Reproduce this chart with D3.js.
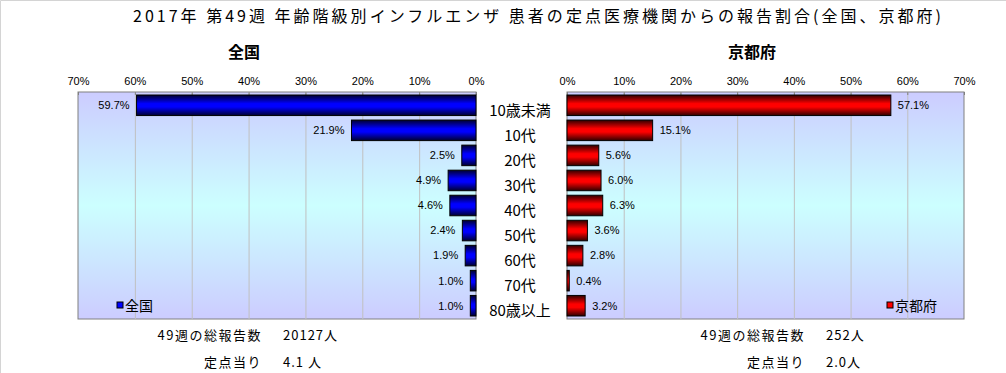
<!DOCTYPE html>
<meta charset="utf-8">
<style>

body {
  margin: 0;
  background: #fff;
}

svg {
  font-family: "Noto Sans CJK JP", "Liberation Sans", sans-serif;
}

.axis path {
  display: none;
}

.axis line {
  stroke: #808080;
}

.axis text {
  fill: #000;
  font-size: 11px;
  font-family: "Liberation Sans", Arial, sans-serif;
}

.grid line {
  stroke: #c0c0c0;
}

.grid path,
.grid text {
  display: none;
}

.val {
  font-size: 11px;
  font-family: "Liberation Sans", Arial, sans-serif;
}

</style>
<body>
<script src="https://d3js.org/d3.v7.min.js"></script>
<script>

var ageGroups = ["10歳未満", "10代", "20代", "30代", "40代", "50代", "60代", "70代", "80歳以上"];
var zenkoku = [59.7, 21.9, 2.5, 4.9, 4.6, 2.4, 1.9, 1.0, 1.0];
var kyoto = [57.1, 15.1, 5.6, 6.0, 6.3, 3.6, 2.8, 0.4, 3.2];
var xTicks = [0, 10, 20, 30, 40, 50, 60, 70];

var title = "2017年 第49週 年齢階級別インフルエンザ 患者の定点医療機関からの報告割合(全国、京都府)";
var panelNames = ["全国", "京都府"];
var totalLabel = "49週の総報告数";
var perLabel = "定点当り";
var totals = ["20127人", "252人"];
var perSite = ["4.1 人", "2.0人"];

var W = 1006, H = 373,
    plotTop = 92, plotBottom = 319;

var svg = d3.select("body").append("svg")
    .attr("width", W)
    .attr("height", H);

// frame line on top / left only
svg.append("path")
    .attr("d", "M0.5," + H + "V0.5H" + W)
    .attr("fill", "none")
    .attr("stroke", "#d4d4d4");

var defs = svg.append("defs");

var bg = defs.append("linearGradient")
    .attr("id", "bg")
    .attr("x1", 0).attr("y1", 0).attr("x2", 0).attr("y2", 1);
bg.append("stop").attr("offset", 0).attr("stop-color", "#ccccff");
bg.append("stop").attr("offset", 0.5).attr("stop-color", "#ccffff");
bg.append("stop").attr("offset", 1).attr("stop-color", "#ccccff");

function barGrad(id, dark, bright) {
  var g = defs.append("linearGradient")
      .attr("id", id)
      .attr("x1", 0).attr("y1", 0).attr("x2", 0).attr("y2", 1);
  g.append("stop").attr("offset", 0).attr("stop-color", dark);
  g.append("stop").attr("offset", 0.42).attr("stop-color", bright);
  g.append("stop").attr("offset", 0.58).attr("stop-color", bright);
  g.append("stop").attr("offset", 1).attr("stop-color", dark);
}
barGrad("gBlue", "#000030", "#0000ff");
barGrad("gRed", "#300000", "#ff0000");

svg.append("text")
    .attr("x", 133)
    .attr("y", 22)
    .attr("textLength", 808)
    .attr("lengthAdjust", "spacing")
    .style("font-size", "16px")
    .text(title);

var y = d3.scaleBand()
    .domain(ageGroups)
    .range([plotTop, plotBottom])
    .paddingInner(0.18)
    .paddingOuter(0.12);

function panel(opt) {
  var x = d3.scaleLinear().domain([0, 70]).range(opt.range);
  var x0 = x(0), x70 = x(70);
  var left = Math.min(x0, x70), right = Math.max(x0, x70);

  svg.append("rect")
      .attr("x", left)
      .attr("y", plotTop)
      .attr("width", right - left)
      .attr("height", plotBottom - plotTop)
      .attr("fill", "url(#bg)")
      .attr("stroke", "#808080");

  svg.append("g")
      .attr("class", "grid")
      .attr("transform", "translate(0," + plotTop + ")")
      .call(d3.axisTop(x).tickValues(xTicks.slice(1, 7)).tickSize(-(plotBottom - plotTop)));

  svg.append("g")
      .attr("class", "axis")
      .attr("transform", "translate(0," + plotTop + ")")
      .call(d3.axisTop(x).tickValues(xTicks).tickSizeInner(-3).tickSizeOuter(0).tickPadding(7)
        .tickFormat(function(d) { return d + "%"; }));

  svg.append("text")
      .attr("x", opt.titleX)
      .attr("y", 58)
      .attr("text-anchor", "middle")
      .style("font-size", "16px")
      .style("font-weight", "bold")
      .text(opt.name);

  var rows = opt.values.map(function(v, i) { return {cat: ageGroups[i], v: v}; });

  svg.selectAll(".bar-" + opt.id)
      .data(rows)
    .enter().append("rect")
      .attr("class", "bar-" + opt.id)
      .attr("x", function(d) { return Math.min(x(0), x(d.v)); })
      .attr("y", function(d) { return y(d.cat); })
      .attr("width", function(d) { return Math.abs(x(d.v) - x(0)); })
      .attr("height", y.bandwidth())
      .attr("fill", "url(#" + opt.grad + ")")
      .attr("stroke", "#000")
      .attr("stroke-width", 1);

  svg.selectAll(".val-" + opt.id)
      .data(rows)
    .enter().append("text")
      .attr("class", "val val-" + opt.id)
      .attr("x", function(d) { return x(d.v) + opt.dir * 7; })
      .attr("y", function(d) { return y(d.cat) + y.bandwidth() / 2; })
      .attr("dy", "0.35em")
      .attr("text-anchor", opt.dir < 0 ? "end" : "start")
      .text(function(d) { return d.v.toFixed(1) + "%"; });

  // legend
  var lg = svg.append("g").attr("transform", "translate(" + opt.legendX + ",306)");
  lg.append("rect")
      .attr("x", 0).attr("y", -4)
      .attr("width", 6).attr("height", 6)
      .attr("fill", opt.color)
      .attr("stroke", "#000");
  lg.append("text")
      .attr("x", 8)
      .attr("dy", "0.35em")
      .style("font-size", "14px")
      .text(opt.name);

  // footer
  var fx = opt.footX;
  svg.append("text")
      .attr("x", fx).attr("y", 340)
      .attr("text-anchor", "end")
      .style("font-size", "13px")
      .style("letter-spacing", "1.5px")
      .text(totalLabel);
  svg.append("text")
      .attr("x", fx + 21).attr("y", 340)
      .style("font-size", "13px")
      .style("letter-spacing", "1px")
      .text(opt.total);
  svg.append("text")
      .attr("x", fx).attr("y", 367)
      .attr("text-anchor", "end")
      .style("font-size", "13px")
      .style("letter-spacing", "1.5px")
      .text(perLabel);
  svg.append("text")
      .attr("x", fx + 21).attr("y", 367)
      .style("font-size", "13px")
      .style("letter-spacing", "1px")
      .text(opt.per);
}

panel({id: "z", name: panelNames[0], values: zenkoku, range: [476, 78], dir: -1,
       grad: "gBlue", color: "#0000ff", titleX: 244, legendX: 117, footX: 262,
       total: totals[0], per: perSite[0]});

panel({id: "k", name: panelNames[1], values: kyoto, range: [567, 964], dir: 1,
       grad: "gRed", color: "#ff0000", titleX: 752, legendX: 887, footX: 805,
       total: totals[1], per: perSite[1]});

// category labels between the panels
svg.selectAll(".cat")
    .data(ageGroups)
  .enter().append("text")
    .attr("class", "cat")
    .attr("x", 520)
    .attr("y", function(d) { return y(d) + y.bandwidth() / 2 + 5; })
    .attr("dy", "0.35em")
    .attr("text-anchor", "middle")
    .style("font-size", "15px")
    .text(function(d) { return d; });

</script>
